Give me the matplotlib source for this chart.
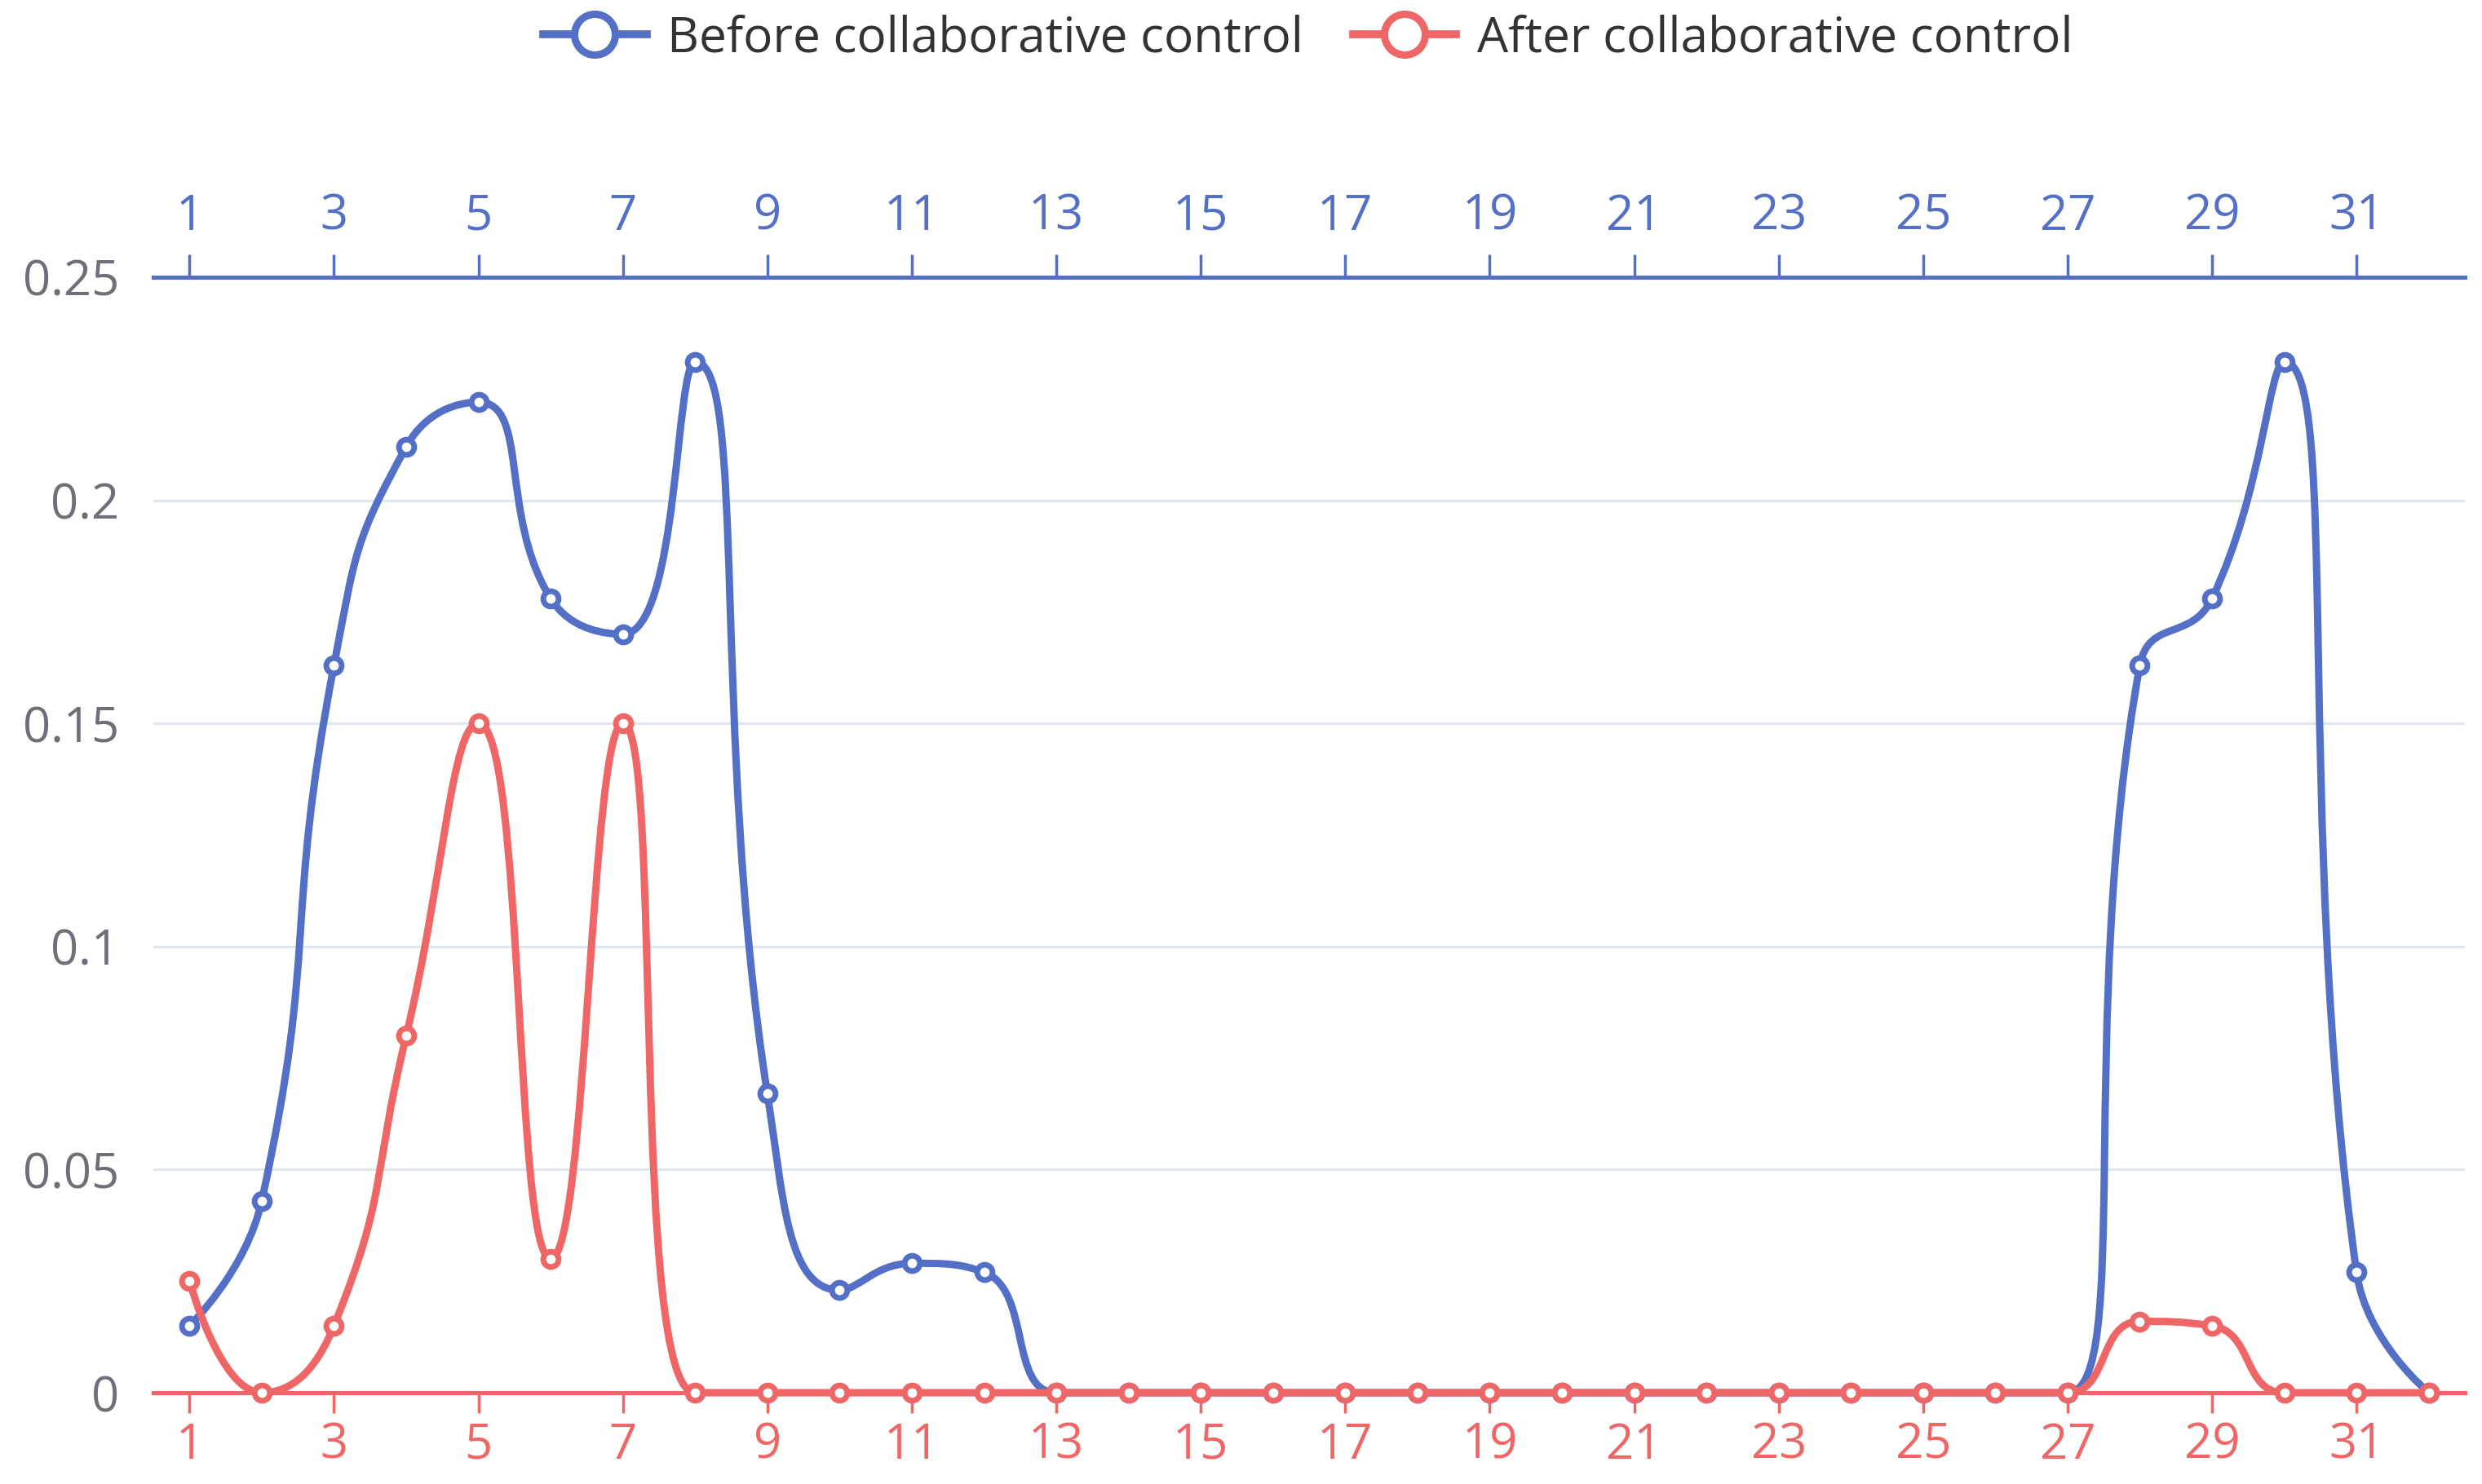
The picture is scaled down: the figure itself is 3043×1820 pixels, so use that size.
import matplotlib
matplotlib.use("Agg")
import matplotlib.pyplot as plt
import numpy as np
from matplotlib.path import Path
from matplotlib.patches import PathPatch
from matplotlib.lines import Line2D

# data
days = list(range(1, 33))
before = [0.015, 0.043, 0.163, 0.212, 0.222, 0.178, 0.170, 0.231, 0.067, 0.023,
          0.029, 0.027, 0, 0, 0, 0, 0, 0, 0, 0,
          0, 0, 0, 0, 0, 0, 0, 0.163, 0.178, 0.231,
          0.027, 0]
after = [0.025, 0, 0.015, 0.080, 0.150, 0.030, 0.150, 0, 0, 0,
         0, 0, 0, 0, 0, 0, 0, 0, 0, 0,
         0, 0, 0, 0, 0, 0, 0, 0.016, 0.015, 0,
         0, 0]
yticks = [0, 0.05, 0.1, 0.15, 0.2, 0.25]
ytick_labels = ["0", "0.05", "0.1", "0.15", "0.2", "0.25"]
xtick_days = list(range(1, 33, 2))
labels = ["Before collaborative control", "After collaborative control"]

BLUE = "#5470c6"
RED = "#ee6666"
plt.rcParams['font.family'] = ['Open Sans', 'DejaVu Sans']


def smooth_path(ax, xs, ys, smooth=0.5):
    # echarts-style smoothed bezier, computed in display space
    pts = ax.transData.transform(np.column_stack([xs, ys]))
    n = len(pts)
    verts = [tuple(pts[0])]
    codes = [Path.MOVETO]
    cp0 = pts[0].copy()
    for i in range(1, n):
        x, y = pts[i]
        px, py = pts[i - 1]
        if i == n - 1:
            cp1 = np.array([x, y])
            nxt_cp0 = None
        else:
            nx, ny = pts[i + 1]
            vx, vy = nx - px, ny - py
            lp = np.hypot(x - px, y - py)
            ln = np.hypot(nx - x, ny - y)
            r = ln / (ln + lp)
            ncx = x + vx * smooth * r
            ncy = y + vy * smooth * r
            ncx = min(ncx, max(nx, x)); ncy = min(ncy, max(ny, y))
            ncx = max(ncx, min(nx, x)); ncy = max(ncy, min(ny, y))
            vx, vy = ncx - x, ncy - y
            c1x = x - vx * lp / ln
            c1y = y - vy * lp / ln
            c1x = min(c1x, max(px, x)); c1y = min(c1y, max(py, y))
            c1x = max(c1x, min(px, x)); c1y = max(c1y, min(py, y))
            vx, vy = x - c1x, y - c1y
            nxt_cp0 = np.array([x + vx * ln / lp, y + vy * ln / lp])
            cp1 = np.array([c1x, c1y])
        verts += [tuple(cp0), tuple(cp1), (x, y)]
        codes += [Path.CURVE4] * 3
        if nxt_cp0 is not None:
            cp0 = nxt_cp0
    inv = ax.transData.inverted()
    return Path(inv.transform(np.array(verts)), codes)


fig = plt.figure(figsize=(30.43, 18.2), dpi=100)
ax = fig.add_axes([0.0618, 0.0615, 0.9313, 0.7517])
ax.set_xlim(0.5, 32.5)
ax.set_ylim(0, 0.25)

for s in ["left", "right", "top"]:
    ax.spines[s].set_visible(False)
ax.spines["bottom"].set_color(RED)
ax.spines["bottom"].set_linewidth(3.6)
ax.spines["bottom"].set_zorder(3)

ax.set_yticks(yticks)
ax.set_yticklabels(ytick_labels)
ax.tick_params(axis="y", length=0, pad=30, labelsize=43, labelcolor="#6E7079")
for v in yticks[1:-1]:
    ax.axhline(v, color="#E0E6F1", lw=2.2, zorder=0)

ax.set_xticks(xtick_days)
ax.set_xticklabels([str(d) for d in xtick_days])
ax.tick_params(axis="x", direction="out", length=18, width=2.5, color=RED,
               labelcolor=RED, labelsize=43, pad=7)

ax2 = ax.twiny()
ax2.set_xlim(ax.get_xlim())
for s in ["left", "right", "bottom"]:
    ax2.spines[s].set_visible(False)
ax2.spines["top"].set_color(BLUE)
ax2.spines["top"].set_linewidth(3.6)
ax2.set_xticks(xtick_days)
ax2.set_xticklabels([str(d) for d in xtick_days])
ax2.tick_params(axis="x", direction="out", length=20, width=2.5, color=BLUE,
                labelcolor=BLUE, labelsize=43, pad=12)
ax2.set_zorder(-1)
ax.patch.set_visible(False)

for ys, col, z in [(before, BLUE, 4), (after, RED, 5)]:
    p = smooth_path(ax, days, ys)
    ax.add_patch(PathPatch(p, facecolor="none", edgecolor=col, lw=6.5,
                           zorder=z, clip_on=False))
    ax.plot(days, ys, linestyle="none", marker="o", markersize=13.5,
            markerfacecolor="white", markeredgecolor=col, markeredgewidth=5,
            zorder=z + 0.5, clip_on=False)

handles = [Line2D([], [], color=BLUE, lw=7, marker="o", markersize=36,
                  markerfacecolor="white", markeredgewidth=6.5),
           Line2D([], [], color=RED, lw=7, marker="o", markersize=36,
                  markerfacecolor="white", markeredgewidth=6.5)]
leg = fig.legend(handles, labels, loc="center", bbox_to_anchor=(0.527, 0.974),
                 ncol=2, frameon=False, fontsize=43.5, handlelength=2.1,
                 handletextpad=0.42, columnspacing=1.0, labelcolor="#333333")

fig.savefig("out.png", dpi=100, facecolor="white")
